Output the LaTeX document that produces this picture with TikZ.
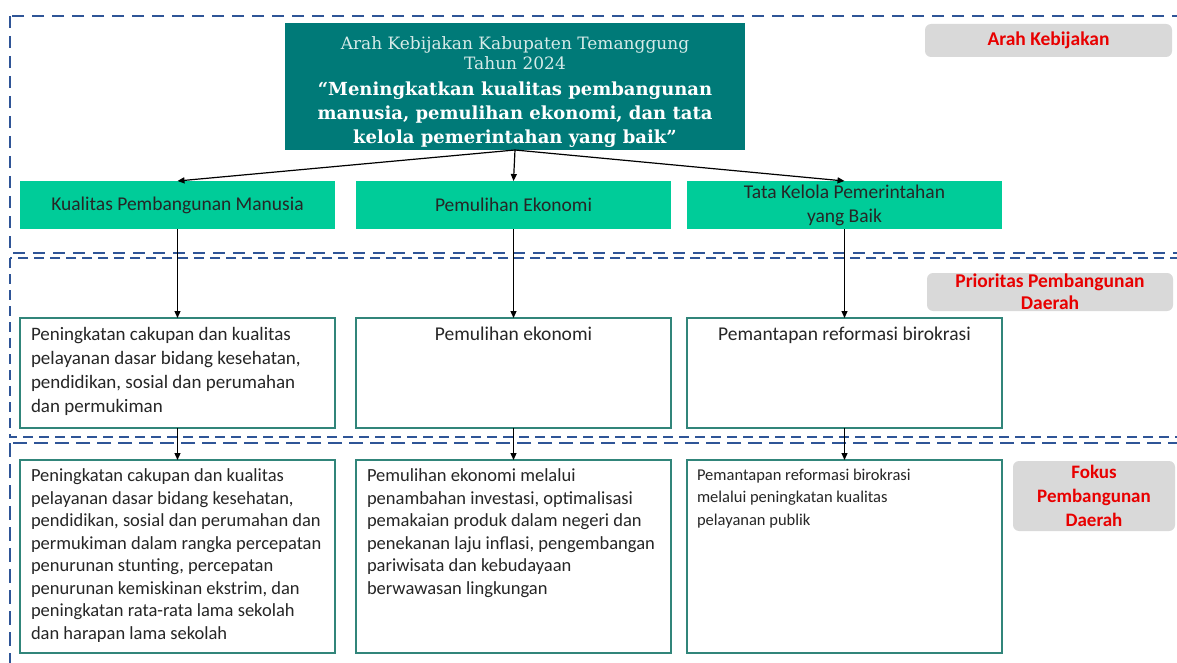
\documentclass[tikz,border=0pt]{standalone}
\usepackage{fontspec}
\setmainfont{Carlito}
\newfontfamily\serifbuku{DejaVu Serif}
\usetikzlibrary{arrows.meta}
\definecolor{tosca}{RGB}{0,122,120}
\definecolor{tosmuda}{RGB}{215,235,233}
\definecolor{hijau}{RGB}{0,204,153}
\definecolor{bingkai}{RGB}{49,133,122}
\definecolor{garis}{RGB}{47,85,151}
\definecolor{abu}{RGB}{217,217,217}
\definecolor{merah}{RGB}{232,0,0}
\definecolor{teks}{RGB}{38,38,38}

\begin{document}
\begin{tikzpicture}[x=1pt, y=-1pt,
    every node/.style={inner sep=0pt, outer sep=0pt},
    sasaran/.style={fill=hijau, minimum width=315pt, minimum height=48pt, align=center, text=teks, font=\fontsize{19.5}{24}\selectfont},
    isi/.style={draw=bingkai, line width=1.6pt, fill=white, text=teks, inner xsep=11pt, inner ysep=9pt},
    tanda/.style={fill=abu, rounded corners=6pt, text=merah, align=center, font=\bfseries\fontsize{19.5}{22}\selectfont},
    batas/.style={draw=garis, line width=2.8pt, dash pattern=on 12pt off 8pt},
    a/.style={-{Triangle[length=7pt, width=6pt]}, line width=1.2pt}
]
\useasboundingbox (0,0) rectangle (1177,663);

% batas tingkat
\draw[batas] (10,16) rectangle (1200,253);
\draw[batas, dash pattern=on 10pt off 6pt] (10,258) rectangle (1200,437);
\draw[batas, dash pattern=on 14pt off 7pt] (10,443) rectangle (1200,700);

% arah kebijakan
\node[fill=tosca, minimum width=460pt, minimum height=127pt, text=white] (arah) at (515,86.5) {\parbox[c][127pt][t]{455pt}{\centering
  \vspace*{14pt}
  \serifbuku\fontsize{17}{20}\selectfont\textcolor{tosmuda}{Arah Kebijakan Kabupaten Temanggung}\par
  \textcolor{tosmuda}{Tahun 2024}\par
  \vspace{2pt}
  \bfseries\fontsize{18}{24}\selectfont “Meningkatkan kualitas pembangunan\par
  manusia, pemulihan ekonomi, dan tata\par
  kelola pemerintahan yang baik”\par}};

\node[sasaran] (s1) at (177.5,205) {Kualitas Pembangunan Manusia};
\node[sasaran] (s2) at (513.5,205) {Pemulihan Ekonomi};
\node[sasaran] (s3) at (844.5,205) {Tata Kelola Pemerintahan\\ yang Baik};

% prioritas
\node[isi] (p1) at (177.5,373) {\parbox[c][92pt][t]{293pt}{\fontsize{19}{24}\selectfont
  Peningkatan cakupan dan kualitas\\ pelayanan dasar bidang kesehatan,\\ pendidikan, sosial dan perumahan\\ dan permukiman}};
\node[isi] (p2) at (513.5,373) {\parbox[c][92pt][t]{293pt}{\centering\fontsize{19.5}{24}\selectfont Pemulihan ekonomi}};
\node[isi] (p3) at (844.5,373) {\parbox[c][92pt][t]{293pt}{\centering\fontsize{19.5}{24}\selectfont Pemantapan reformasi birokrasi}};

% fokus
\node[isi] (f1) at (177.5,556.5) {\parbox[c][175pt][t]{293pt}{\fontsize{18.5}{22.5}\selectfont
  Peningkatan cakupan dan kualitas\\ pelayanan dasar bidang kesehatan,\\ pendidikan, sosial dan perumahan dan\\ permukiman dalam rangka percepatan\\ penurunan stunting, percepatan\\ penurunan kemiskinan ekstrim, dan\\ peningkatan rata-rata lama sekolah\\ dan harapan lama sekolah}};
\node[isi] (f2) at (513.5,556.5) {\parbox[c][175pt][t]{293pt}{\fontsize{18.5}{22.5}\selectfont
  Pemulihan ekonomi melalui\\ penambahan investasi, optimalisasi\\ pemakaian produk dalam negeri dan\\ penekanan laju inflasi, pengembangan\\ pariwisata dan kebudayaan\\ berwawasan lingkungan}};
\node[isi, inner xsep=10pt] (f3) at (844.5,556.5) {\parbox[c][175pt][t]{295pt}{\fontsize{16.5}{22.5}\selectfont
  Pemantapan reformasi birokrasi\\ melalui peningkatan kualitas\\ pelayanan publik}};

% keterangan tingkat
\node[tanda, minimum width=247pt, minimum height=33pt] (t1) at (1048.5,40.5) {Arah Kebijakan};
\node[tanda, minimum width=246pt, minimum height=38pt] (t2) at (1050,292) {Prioritas Pembangunan\\ Daerah};
\node[tanda, minimum width=162pt, minimum height=70pt, font=\bfseries\fontsize{19}{24}\selectfont] (t3) at (1094,496) {Fokus\\ Pembangunan\\ Daerah};

% panah
\draw[a] (arah.south) -- (s1.north);
\draw[a] (arah.south) -- (s2.north);
\draw[a] (arah.south) -- (s3.north);
\foreach \i in {1,2,3} {
  \draw[a] (s\i.south) -- (p\i.north);
  \draw[a] (p\i.south) -- (f\i.north);
}
\end{tikzpicture}
\end{document}
